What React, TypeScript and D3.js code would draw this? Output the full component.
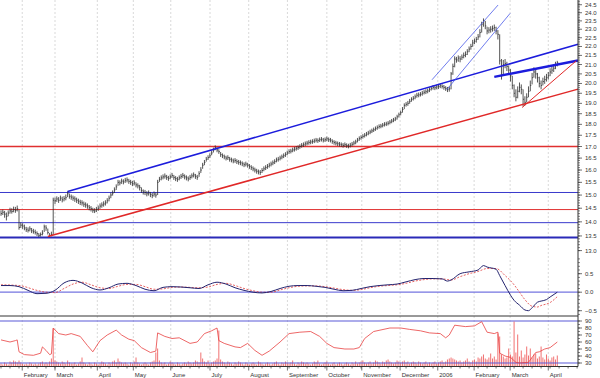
import React from "react";
import * as d3 from "d3";

// ---------- DATA ----------
const closes = [
  14.30, 14.35, 14.28, 14.20, 14.32, 14.40, 14.38, 14.45, 14.42, 14.48,
  13.80, 13.88, 13.85, 13.78, 13.72, 13.70, 13.75, 13.68, 13.65, 13.62,
  13.58, 13.52, 13.55, 13.60, 13.82, 13.78, 13.62, 13.52, 13.55, 14.80,
  14.78, 14.85, 14.80, 14.88, 14.82, 14.86, 14.90, 15.05, 14.95, 14.92,
  14.88, 14.85, 14.80, 14.76, 14.72, 14.70, 14.65, 14.62, 14.58, 14.52,
  14.48, 14.42, 14.40, 14.45, 14.50, 14.58, 14.62, 14.66, 14.70, 14.78,
  14.88, 15.00, 15.08, 15.20, 15.32, 15.50, 15.48, 15.55, 15.52, 15.58,
  15.60, 15.54, 15.50, 15.45, 15.48, 15.40, 15.36, 15.30, 15.18, 15.12,
  15.10, 15.05, 15.08, 15.02, 14.98, 15.04, 15.00, 15.50, 15.62, 15.68,
  15.72, 15.75, 15.70, 15.66, 15.72, 15.78, 15.70, 15.65, 15.62, 15.68,
  15.74, 15.78, 15.72, 15.68, 15.64, 15.70, 15.76, 15.80, 15.74, 15.70,
  15.85, 16.00, 16.20, 16.32, 16.45, 16.52, 16.60, 16.72, 16.85, 16.95,
  16.85, 16.78, 16.65, 16.60, 16.55, 16.50, 16.52, 16.45, 16.42, 16.38,
  16.40, 16.35, 16.32, 16.30, 16.26, 16.22, 16.25, 16.20, 16.15, 16.10,
  16.05, 16.00, 15.95, 15.92, 15.90, 15.98, 16.05, 16.10, 16.15, 16.20,
  16.25, 16.30, 16.35, 16.42, 16.45, 16.50, 16.55, 16.60, 16.65, 16.72,
  16.78, 16.80, 16.85, 16.88, 16.92, 16.95, 17.00, 17.05, 17.08, 17.12,
  17.15, 17.18, 17.20, 17.22, 17.25, 17.28, 17.26, 17.30, 17.32, 17.28,
  17.30, 17.34, 17.30, 17.28, 17.22, 17.18, 17.15, 17.12, 17.10, 17.08,
  17.05, 17.08, 17.04, 17.02, 17.06, 17.10, 17.15, 17.20, 17.28, 17.35,
  17.40, 17.45, 17.50, 17.55, 17.60, 17.65, 17.70, 17.75, 17.80, 17.85,
  17.90, 17.92, 17.96, 18.00, 18.02, 18.05, 18.10, 18.15, 18.20, 18.25,
  18.35, 18.45, 18.55, 18.70, 18.90, 18.95, 19.00, 19.10, 19.20, 19.25,
  19.32, 19.40, 19.42, 19.45, 19.50, 19.55, 19.58, 19.62, 19.68, 19.75,
  19.80, 19.78, 19.82, 19.85, 19.88, 19.85, 19.80, 19.75, 19.70, 19.72,
  20.50, 20.90, 21.30, 21.25, 21.35, 21.30, 21.40, 21.50, 21.55, 21.70,
  21.85, 22.00, 22.20, 22.30, 22.40, 22.55, 22.80, 23.30, 23.50, 23.20,
  22.90, 22.95, 23.00, 23.05, 23.10, 22.90, 22.70, 21.20, 20.40, 21.00,
  21.05, 20.90, 20.70, 20.40, 19.90, 19.50, 19.30, 19.60, 19.80, 19.70,
  19.20, 19.05, 19.30, 19.60, 19.90, 20.30, 20.60, 20.50, 20.30, 20.00,
  19.90, 20.10, 20.20, 20.30, 20.40, 20.60, 20.70, 20.80, 20.95, 21.10,
];

const highs = [
  14.42, 14.45, 14.40, 14.34, 14.42, 14.52, 14.50, 14.56, 14.55, 14.60,
  14.45, 13.98, 13.95, 13.90, 13.82, 13.80, 13.84, 13.78, 13.75, 13.72,
  13.66, 13.60, 13.62, 13.70, 13.90, 13.88, 13.76, 13.60, 13.65, 14.90,
  14.90, 14.95, 14.92, 14.98, 14.94, 14.96, 15.02, 15.15, 15.06, 15.02,
  14.98, 14.95, 14.90, 14.86, 14.82, 14.80, 14.75, 14.72, 14.68, 14.62,
  14.58, 14.52, 14.50, 14.55, 14.60, 14.68, 14.72, 14.76, 14.80, 14.88,
  14.98, 15.10, 15.18, 15.30, 15.42, 15.60, 15.58, 15.65, 15.62, 15.68,
  15.70, 15.64, 15.60, 15.56, 15.58, 15.50, 15.46, 15.40, 15.30, 15.22,
  15.20, 15.15, 15.18, 15.12, 15.08, 15.14, 15.10, 15.60, 15.72, 15.78,
  15.82, 15.86, 15.80, 15.76, 15.82, 15.88, 15.80, 15.75, 15.72, 15.78,
  15.84, 15.88, 15.82, 15.78, 15.74, 15.80, 15.86, 15.90, 15.84, 15.80,
  15.95, 16.12, 16.30, 16.42, 16.55, 16.62, 16.70, 16.82, 16.95, 17.05,
  16.96, 16.88, 16.76, 16.70, 16.65, 16.60, 16.62, 16.55, 16.52, 16.48,
  16.50, 16.45, 16.42, 16.40, 16.36, 16.32, 16.35, 16.30, 16.25, 16.20,
  16.15, 16.10, 16.05, 16.02, 16.00, 16.08, 16.15, 16.20, 16.25, 16.30,
  16.35, 16.40, 16.45, 16.52, 16.55, 16.60, 16.65, 16.70, 16.75, 16.82,
  16.88, 16.90, 16.95, 16.98, 17.02, 17.05, 17.10, 17.15, 17.18, 17.22,
  17.25, 17.28, 17.30, 17.32, 17.35, 17.38, 17.36, 17.40, 17.42, 17.38,
  17.40, 17.44, 17.40, 17.38, 17.32, 17.28, 17.25, 17.22, 17.20, 17.18,
  17.15, 17.18, 17.14, 17.12, 17.16, 17.20, 17.25, 17.30, 17.38, 17.45,
  17.50, 17.55, 17.60, 17.65, 17.70, 17.75, 17.80, 17.85, 17.90, 17.95,
  18.00, 18.02, 18.06, 18.10, 18.12, 18.15, 18.20, 18.25, 18.30, 18.35,
  18.45, 18.55, 18.65, 18.82, 19.00, 19.06, 19.12, 19.22, 19.30, 19.36,
  19.44, 19.52, 19.54, 19.56, 19.62, 19.66, 19.70, 19.74, 19.80, 19.86,
  19.92, 19.90, 19.94, 19.98, 20.00, 19.96, 19.92, 19.86, 19.82, 19.84,
  20.60, 21.05, 21.45, 21.42, 21.50, 21.46, 21.55, 21.66, 21.72, 21.85,
  22.00, 22.15, 22.38, 22.46, 22.55, 22.72, 23.00, 23.45, 23.65, 23.50,
  23.15, 23.12, 23.18, 23.22, 23.28, 23.15, 22.95, 22.70, 21.30, 21.25,
  21.30, 21.15, 20.95, 20.75, 20.40, 19.95, 19.70, 19.85, 20.05, 19.95,
  19.70, 19.35, 19.50, 19.85, 20.15, 20.55, 20.85, 20.80, 20.55, 20.35,
  20.15, 20.30, 20.40, 20.50, 20.60, 20.80, 20.90, 21.00, 21.15, 21.20,
];

const lows = [
  14.22, 14.25, 14.15, 14.05, 14.20, 14.30, 14.30, 14.35, 14.33, 14.38,
  13.72, 13.78, 13.75, 13.70, 13.64, 13.62, 13.66, 13.60, 13.58, 13.55,
  13.50, 13.46, 13.48, 13.52, 13.64, 13.68, 13.55, 13.47, 13.49, 13.55,
  14.66, 14.74, 14.70, 14.78, 14.72, 14.76, 14.80, 14.92, 14.86, 14.82,
  14.78, 14.74, 14.70, 14.66, 14.62, 14.60, 14.55, 14.52, 14.48, 14.42,
  14.38, 14.33, 14.32, 14.36, 14.40, 14.48, 14.52, 14.56, 14.60, 14.68,
  14.76, 14.88, 14.98, 15.08, 15.20, 15.36, 15.38, 15.44, 15.42, 15.48,
  15.50, 15.44, 15.40, 15.35, 15.38, 15.30, 15.26, 15.18, 15.08, 15.02,
  15.00, 14.95, 14.98, 14.92, 14.88, 14.94, 14.90, 15.00, 15.52, 15.58,
  15.62, 15.65, 15.60, 15.56, 15.62, 15.68, 15.60, 15.55, 15.52, 15.58,
  15.64, 15.68, 15.62, 15.58, 15.54, 15.60, 15.66, 15.70, 15.64, 15.60,
  15.72, 15.88, 16.05, 16.20, 16.35, 16.42, 16.50, 16.62, 16.74, 16.84,
  16.75, 16.68, 16.55, 16.50, 16.45, 16.40, 16.42, 16.35, 16.32, 16.28,
  16.30, 16.25, 16.22, 16.20, 16.16, 16.12, 16.15, 16.10, 16.05, 16.00,
  15.95, 15.90, 15.85, 15.82, 15.80, 15.88, 15.95, 16.00, 16.05, 16.10,
  16.15, 16.20, 16.25, 16.32, 16.35, 16.40, 16.45, 16.50, 16.55, 16.62,
  16.68, 16.70, 16.75, 16.78, 16.82, 16.85, 16.90, 16.95, 16.98, 17.02,
  17.05, 17.08, 17.10, 17.12, 17.15, 17.18, 17.16, 17.20, 17.22, 17.18,
  17.20, 17.24, 17.20, 17.18, 17.12, 17.08, 17.05, 17.02, 17.00, 16.98,
  16.95, 16.98, 16.94, 16.92, 16.96, 17.00, 17.05, 17.10, 17.18, 17.25,
  17.30, 17.35, 17.40, 17.45, 17.50, 17.55, 17.60, 17.65, 17.70, 17.75,
  17.80, 17.82, 17.86, 17.90, 17.92, 17.95, 18.00, 18.05, 18.10, 18.15,
  18.22, 18.32, 18.42, 18.55, 18.72, 18.84, 18.88, 18.98, 19.08, 19.14,
  19.20, 19.28, 19.30, 19.34, 19.38, 19.44, 19.46, 19.50, 19.56, 19.64,
  19.68, 19.66, 19.70, 19.72, 19.76, 19.74, 19.68, 19.62, 19.56, 19.58,
  19.70, 20.45, 20.85, 21.10, 21.15, 21.12, 21.25, 21.34, 21.40, 21.52,
  21.68, 21.82, 21.98, 22.14, 22.22, 22.38, 22.52, 22.80, 23.15, 23.00,
  22.70, 22.76, 22.80, 22.86, 22.90, 22.70, 22.40, 21.00, 20.20, 20.40,
  20.80, 20.65, 20.45, 20.10, 19.70, 19.30, 19.10, 19.25, 19.55, 19.45,
  18.85, 18.90, 19.05, 19.30, 19.60, 19.95, 20.30, 20.25, 20.05, 19.80,
  19.70, 19.90, 19.98, 20.10, 20.20, 20.38, 20.50, 20.60, 20.75, 20.90,
];

const volumes = [
  3, 2, 4, 3, 2, 5, 4, 6, 5, 4,
  6, 4, 3, 2, 3, 2, 4, 3, 2, 3,
  2, 3, 4, 5, 3, 4, 3, 5, 8, 38,
  6, 5, 4, 3, 5, 4, 3, 6, 4, 3,
  3, 4, 2, 3, 5, 9, 4, 3, 2, 4,
  3, 2, 4, 3, 2, 3, 5, 4, 3, 2,
  4, 3, 5, 6, 4, 8, 5, 4, 3, 4,
  3, 2, 4, 3, 5, 9, 4, 3, 2, 3,
  4, 3, 2, 4, 5, 6, 14, 18, 6, 4,
  3, 4, 2, 3, 5, 4, 3, 2, 4, 3,
  2, 3, 4, 3, 5, 4, 3, 4, 6, 5,
  4, 14, 8, 5, 4, 6, 3, 4, 5, 6,
  8, 36, 7, 5, 4, 3, 5, 4, 3, 2,
  4, 3, 5, 4, 3, 2, 4, 3, 2, 3,
  4, 3, 2, 5, 4, 3, 2, 3, 4, 3,
  2, 3, 4, 5, 3, 2, 4, 3, 5, 4,
  3, 4, 6, 3, 2, 4, 3, 5, 4, 3,
  4, 3, 2, 3, 5, 4, 6, 3, 2, 3,
  4, 5, 3, 2, 3, 4, 2, 3, 4, 3,
  2, 3, 4, 3, 2, 4, 3, 5, 3, 4,
  5, 6, 4, 3, 4, 5, 3, 4, 6, 5,
  4, 3, 5, 4, 6, 7, 5, 4, 3, 4,
  6, 5, 4, 5, 6, 4, 5, 3, 4, 5,
  4, 3, 5, 4, 3, 4, 5, 3, 4, 3,
  4, 5, 3, 4, 5, 6, 4, 5, 7, 8,
  9, 8, 7, 6, 5, 6, 4, 5, 6, 8,
  5, 4, 6, 7, 5, 9, 8, 10, 12, 8,
  7, 9, 13, 8, 10, 7, 33, 30, 12, 10,
  8, 9, 18, 12, 10, 45, 14, 32, 10, 16,
  9, 12, 20, 11, 18, 9, 12, 13, 8, 10,
  20, 9, 7, 12, 8, 6, 9, 10, 7, 11,
];

const macdIdx = [0, 5, 10, 15, 20, 25, 30, 35, 40, 45, 50, 55, 60, 65, 70, 75, 80, 85, 90, 95, 100, 105, 110, 115, 120, 125, 130, 135, 140, 145, 150, 155, 160, 165, 170, 175, 180, 185, 190, 195, 200, 205, 210, 215, 220, 225, 230, 235, 240, 245, 248, 250, 255, 260, 265, 268, 270, 275, 277, 280, 283, 285, 288, 291, 293, 295, 298, 300, 303, 305, 309];
const macdVals = [0.18, 0.18, 0.15, 0.05, -0.04, -0.03, 0.05, 0.25, 0.32, 0.25, 0.12, 0.06, 0.12, 0.22, 0.24, 0.18, 0.08, 0.04, 0.13, 0.15, 0.14, 0.12, 0.10, 0.20, 0.27, 0.22, 0.12, 0.05, 0.0, -0.02, 0.02, 0.10, 0.16, 0.18, 0.18, 0.16, 0.13, 0.08, 0.04, 0.05, 0.10, 0.15, 0.18, 0.20, 0.22, 0.28, 0.34, 0.37, 0.37, 0.36, 0.30, 0.33, 0.50, 0.55, 0.60, 0.72, 0.68, 0.62, 0.45, 0.18, -0.08, -0.22, -0.35, -0.48, -0.50, -0.42, -0.27, -0.24, -0.20, -0.13, 0.0];

const signalIdx = [0, 10, 20, 25, 30, 35, 40, 45, 50, 55, 60, 65, 70, 75, 80, 85, 90, 95, 100, 110, 115, 120, 125, 130, 135, 140, 145, 150, 155, 160, 165, 170, 175, 180, 185, 190, 195, 200, 205, 210, 215, 220, 225, 230, 235, 240, 245, 250, 255, 260, 265, 270, 275, 280, 285, 288, 291, 295, 298, 300, 305, 309];
const signalVals = [0.20, 0.18, 0.05, 0.0, -0.01, 0.10, 0.22, 0.27, 0.20, 0.12, 0.10, 0.16, 0.21, 0.21, 0.15, 0.08, 0.09, 0.13, 0.14, 0.12, 0.14, 0.21, 0.24, 0.18, 0.10, 0.04, 0.0, 0.0, 0.06, 0.12, 0.16, 0.17, 0.17, 0.15, 0.11, 0.07, 0.05, 0.07, 0.12, 0.16, 0.18, 0.20, 0.24, 0.30, 0.34, 0.36, 0.36, 0.33, 0.42, 0.50, 0.56, 0.64, 0.64, 0.45, 0.20, 0.0, -0.20, -0.38, -0.40, -0.36, -0.28, -0.12];

const rsiIdx = [0, 5, 8, 9, 10, 13, 18, 22, 23, 25, 27, 28, 29, 32, 36, 39, 44, 48, 51, 55, 59, 64, 67, 71, 74, 78, 83, 86, 87, 91, 95, 99, 105, 109, 113, 117, 120, 121, 124, 130, 133, 137, 141, 145, 149, 155, 160, 166, 172, 177, 181, 185, 191, 196, 199, 202, 207, 216, 222, 227, 233, 238, 244, 247, 249, 252, 258, 263, 267, 270, 274, 276, 277, 280, 283, 286, 288, 293, 297, 299, 302, 305, 309];
const rsiVals = [63, 60, 62, 63, 46, 42, 41, 44, 53, 48, 42, 43, 80, 72, 70, 72, 68, 55, 46, 62, 70, 77, 70, 64, 62, 52, 45, 47, 73, 68, 65, 66, 58, 60, 72, 76, 80, 62, 58, 53, 52, 58, 48, 41, 47, 60, 72, 74, 75, 68, 58, 52, 50, 50, 52, 65, 75, 80, 80, 78, 76, 73, 72, 66, 70, 84, 82, 83, 89, 74, 72, 74, 44, 40, 38, 31, 30, 31, 45, 46, 50, 52, 60];

// month boundaries (in bar-index units) and labels
const monthStarts = [11.8, 30, 53.5, 73.5, 94.3, 116.1, 137.6, 159.1, 181, 200.4, 221.7, 242.6, 262.8, 282.8, 304];
const monthLabels = ["February", "March", "April", "May", "June", "July", "August", "September", "October", "November", "December", "2006", "February", "March", "April"];

// drawn studies: [barIndex, price] endpoints
const upperTrend = [[37, 15.14], [320.5, 22.13]];
const lowerTrend = [[26, 13.48], [320.5, 19.71]];
const shortResist = [[274, 20.34], [320.5, 21.22]];
const shortSupport = [[289.5, 18.8], [319.5, 21.2]];
const channelHigh = [[239.4, 20.19], [276.1, 24.48]];
const channelLow = [[247.6, 19.68], [282.8, 23.96]];
const redLevels = [17.0, 14.45];
const blueLevels = [15.1, 13.97];
const baseLevel = 13.45;

const priceTicks = d3.range(13.0, 24.51, 0.5);
const macdTicks = [0.5, 0.0, -0.5];
const rsiTicks = [90, 80, 70, 60, 50, 40, 30];

// ---------- CHART ----------
export default function App() {
  const right = 578;
  const x = d3.scaleLinear().domain([0, 320.5]).range([1, right]);
  const yP = d3.scaleLog().domain([12.82, 24.8]).range([256, 0]);
  const yM = d3.scaleLinear().domain([-0.5, 0.5]).range([310.7, 273.7]);
  const yR = d3.scaleLinear().domain([30, 90]).range([363, 321]);
  const yV = d3.scaleLinear().domain([0, 50]).range([366.5, 316.5]);
  const axisY = 366.5;

  const font = "'Liberation Sans', Arial, sans-serif";
  const tickColor = "#333";

  const lineGen = d3.line<number[]>().x((d) => x(d[0])).y((d) => yP(d[1]));
  const macdLine = d3
    .line<number>()
    .x((_, i) => x(macdIdx[i]))
    .y((d) => yM(d))
    .curve(d3.curveMonotoneX);
  const signalLine = d3
    .line<number>()
    .x((_, i) => x(signalIdx[i]))
    .y((d) => yM(d))
    .curve(d3.curveMonotoneX);
  const rsiLine = d3
    .line<number>()
    .x((_, i) => x(rsiIdx[i]))
    .y((d) => yR(d));

  const minorPrice = d3.range(130, 249, 1).map((v) => v / 10);
  const minorMacd = d3.range(-6, 10, 1).map((v) => v / 10);
  const minorRsi = d3.range(30, 91, 5);
  const weekTicks = d3.range(0, 321, 5);

  return (
    <svg
      width={600}
      height={378}
      style={{ position: "absolute", left: 0, top: 0, background: "#fff" }}
      fontFamily={font}
    >
      <rect x={0} y={0} width={600} height={378} fill="#fff" />

      {/* vertical month grid */}
      {monthStarts.map((m, k) => (
        <line
          key={"g" + k}
          x1={x(m)}
          x2={x(m)}
          y1={0}
          y2={axisY}
          stroke="#c8c8c8"
          strokeWidth={0.7}
          strokeDasharray="2,2"
        />
      ))}

      {/* horizontal levels */}
      {redLevels.map((v, k) => (
        <line key={"rl" + k} x1={0} x2={right} y1={yP(v)} y2={yP(v)} stroke="#e03030" strokeWidth={k === 0 ? 1.4 : 1} />
      ))}
      {blueLevels.map((v, k) => (
        <line key={"bl" + k} x1={0} x2={right} y1={yP(v)} y2={yP(v)} stroke="#3a3acc" strokeWidth={1} />
      ))}
      <line x1={0} x2={right} y1={yP(baseLevel)} y2={yP(baseLevel)} stroke="#2a2ab8" strokeWidth={2} />

      {/* price bars */}
      <g stroke="#2a2a2a" strokeWidth={0.8}>
        {closes.map((c, i) => (
          <g key={"b" + i}>
            <line x1={x(i)} x2={x(i)} y1={yP(highs[i])} y2={yP(lows[i])} />
            <line x1={x(i)} x2={x(i) + 1} y1={yP(c)} y2={yP(c)} />
          </g>
        ))}
      </g>

      {/* studies */}
      <path d={lineGen(lowerTrend as any) || ""} stroke="#e02828" strokeWidth={1.5} fill="none" />
      <path d={lineGen(upperTrend as any) || ""} stroke="#1c1cdc" strokeWidth={1.5} fill="none" />
      <path d={lineGen(shortResist as any) || ""} stroke="#1c1cdc" strokeWidth={2.4} fill="none" />
      <path d={lineGen(shortSupport as any) || ""} stroke="#e02828" strokeWidth={1} fill="none" />
      <path d={lineGen(channelHigh as any) || ""} stroke="#4a5ae8" strokeWidth={0.8} fill="none" />
      <path d={lineGen(channelLow as any) || ""} stroke="#4a5ae8" strokeWidth={0.8} fill="none" />

      {/* MACD panel */}
      <line x1={0} x2={right} y1={yM(0)} y2={yM(0)} stroke="#7474e0" strokeWidth={1.3} />
      <path d={signalLine(signalVals) || ""} stroke="#e03a3a" strokeWidth={0.8} strokeDasharray="2,1.5" fill="none" />
      <path d={macdLine(macdVals) || ""} stroke="#23236e" strokeWidth={1} fill="none" />

      {/* separator */}
      <line x1={0} x2={right} y1={316} y2={316} stroke="#333" strokeWidth={1} />

      {/* RSI / volume panel */}
      <line x1={0} x2={right} y1={yR(90)} y2={yR(90)} stroke="#5a5ad8" strokeWidth={1.2} />
      <g stroke="#ee4c4c" strokeWidth={0.8}>
        {volumes.map((v, i) => (
          <line key={"v" + i} x1={x(i)} x2={x(i)} y1={yV(0)} y2={yV(v)} />
        ))}
      </g>
      <line x1={0} x2={right} y1={yR(30)} y2={yR(30)} stroke="#5a5ad8" strokeWidth={1.2} />
      <path d={rsiLine(rsiVals) || ""} stroke="#e84040" strokeWidth={0.8} fill="none" />

      {/* x axis */}
      <line x1={0} x2={right} y1={axisY} y2={axisY} stroke={tickColor} strokeWidth={1} />
      {weekTicks.map((t) => (
        <line key={"wt" + t} x1={x(t)} x2={x(t)} y1={axisY} y2={axisY + 2} stroke={tickColor} strokeWidth={0.7} />
      ))}
      {monthStarts.map((m, k) => (
        <line key={"mt" + k} x1={x(m)} x2={x(m)} y1={axisY} y2={axisY + 4} stroke={tickColor} strokeWidth={0.7} />
      ))}
      {monthLabels.map((lab, k) => (
        <text key={"ml" + k} x={x(monthStarts[k]) + 1.5} y={377} fontSize={6} fill="#333">
          {lab}
        </text>
      ))}

      {/* right axis */}
      <line x1={right} x2={right} y1={0} y2={axisY} stroke={tickColor} strokeWidth={1} />
      {minorPrice.map((v) => (
        <line key={"mp" + v} x1={right} x2={right + 2} y1={yP(v)} y2={yP(v)} stroke={tickColor} strokeWidth={0.6} />
      ))}
      {priceTicks.map((v) => (
        <g key={"pt" + v}>
          <line x1={right} x2={right + 4} y1={yP(v)} y2={yP(v)} stroke={tickColor} strokeWidth={0.7} />
          <text x={585} y={yP(v) + 2} fontSize={6} fill="#333">
            {d3.format(".1f")(v)}
          </text>
        </g>
      ))}
      {minorMacd.map((v) => (
        <line key={"mm" + v} x1={right} x2={right + 2} y1={yM(v)} y2={yM(v)} stroke={tickColor} strokeWidth={0.6} />
      ))}
      {macdTicks.map((v) => (
        <g key={"mk" + v}>
          <line x1={right} x2={right + 4} y1={yM(v)} y2={yM(v)} stroke={tickColor} strokeWidth={0.7} />
          <text x={585} y={yM(v) + 2} fontSize={6} fill="#333">
            {d3.format(".1f")(v)}
          </text>
        </g>
      ))}
      {minorRsi.map((v) => (
        <line key={"mr" + v} x1={right} x2={right + 2} y1={yR(v)} y2={yR(v)} stroke={tickColor} strokeWidth={0.6} />
      ))}
      {rsiTicks.map((v) => (
        <g key={"rk" + v}>
          <line x1={right} x2={right + 4} y1={yR(v)} y2={yR(v)} stroke={tickColor} strokeWidth={0.7} />
          <text x={585} y={yR(v) + 2} fontSize={6} fill="#333">
            {v}
          </text>
        </g>
      ))}
    </svg>
  );
}
